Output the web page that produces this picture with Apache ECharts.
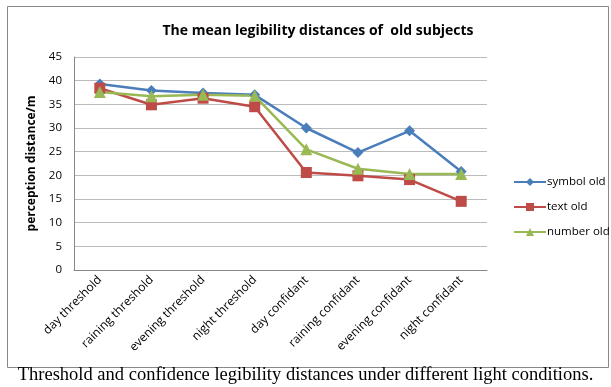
<!DOCTYPE html>
<html>
<head>
<meta charset="utf-8">
<script src="https://cdn.jsdelivr.net/npm/echarts@6/dist/echarts.min.js"></script>
<style>
  html, body { margin: 0; padding: 0; background: #fff; }
  #chart { width: 611px; height: 387px; }
</style>
</head>
<body>
<div id="chart"></div>
<script>
// categories and values
var categories = ['day threshold', 'raining threshold', 'evening threshold', 'night threshold',
  'day confidant', 'raining confidant', 'evening confidant', 'night confidant']
var symbolOld = [39.3, 37.9, 37.4, 37.0, 30.0, 24.8, 29.4, 20.8]
var textOld = [38.4, 34.9, 36.3, 34.5, 20.6, 19.9, 19.1, 14.5]
var numberOld = [37.6, 36.7, 37.0, 36.8, 25.5, 21.4, 20.3, 20.3]

var myChart = echarts.init(document.getElementById('chart'))

function line(name, data, color, symbol, size) {
  return {
    name: name,
    type: 'line',
    data: data,
    symbol: symbol,
    symbolSize: size,
    lineStyle: { color: color, width: 2.5 },
    itemStyle: { color: color },
  }
}

var option = {
  animation: false,
  title: {
    text: 'The mean legibility distances of  old subjects',
    left: 313,
    textAlign: 'center',
    top: 19,
    textStyle: { fontFamily: 'Open Sans', fontWeight: 'bold', fontSize: 14, color: '#000' },
  },
  legend: {
    orient: 'vertical',
    left: 508,
    top: 171,
    itemGap: 13,
    itemWidth: 32,
    itemHeight: 10,
    textStyle: { fontFamily: 'Open Sans', fontSize: 11.5, color: '#000', padding: [0, 0, 0, -4] },
    data: ['symbol old', 'text old', 'number old'],
  },
  grid: { left: 74, right: 124, top: 57, bottom: 117 },
  xAxis: {
    type: 'category',
    data: categories,
    boundaryGap: true,
    axisLine: { lineStyle: { color: '#888' } },
    axisTick: { show: false },
    axisLabel: {
      rotate: 45,
      interval: 0,
      margin: 8,
      fontFamily: 'Open Sans',
      fontSize: 12,
      color: '#000',
    },
  },
  yAxis: {
    type: 'value',
    min: 0,
    max: 45,
    interval: 5,
    name: 'perception distance/m',
    nameLocation: 'middle',
    nameGap: 33,
    nameTextStyle: { fontFamily: 'Open Sans', fontWeight: 'bold', fontSize: 12, color: '#000' },
    axisLine: { show: true, lineStyle: { color: '#888' } },
    axisTick: { show: false },
    axisLabel: { fontFamily: 'Open Sans', fontSize: 11.5, color: '#000', margin: 12 },
    splitLine: { lineStyle: { color: '#bbb' } },
  },
  graphic: [
    {
      type: 'rect',
      shape: { x: 7.5, y: 6.5, width: 601, height: 361 },
      style: { fill: 'none', stroke: '#888', lineWidth: 1 },
      z: -1,
    },
    {
      type: 'text',
      left: 'center',
      top: 366,
      style: {
        text: 'Threshold and confidence legibility distances under different light conditions.',
        fontFamily: 'Liberation Serif',
        fontSize: 18.5,
        fill: '#000',
      },
    },
  ],
  series: [
    line('symbol old', symbolOld, '#4a7ebb', 'diamond', 11),
    line('text old', textOld, '#be4b48', 'rect', 11),
    line('number old', numberOld, '#98b954', 'triangle', 12),
  ],
}
myChart.setOption(option, true)
</script>
</body>
</html>
